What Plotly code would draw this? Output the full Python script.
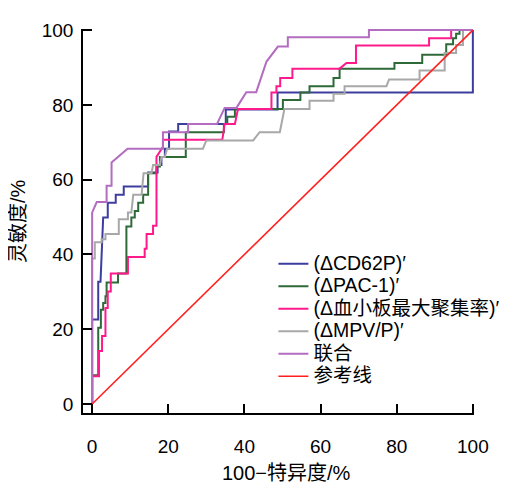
import plotly.graph_objects as go

# ROC curves: x = 100 - specificity (%), y = sensitivity (%)
cd62p_x = [0, 0, 1.6, 1.6, 2.2, 2.9, 4.1, 4.1, 6.2, 6.2, 8.3, 8.3, 14.7, 14.7, 17.2, 17.2, 18.2, 18.2, 19.1, 19.1, 20.2, 20.2, 22.6, 22.6, 35.1, 35.1, 48.7, 48.7, 100, 100]
cd62p_y = [0, 22.6, 22.6, 32.7, 32.7, 49.9, 49.9, 53.8, 53.8, 56.0, 56.0, 58.2, 58.2, 61.9, 61.9, 63.9, 63.9, 66.1, 66.1, 68.3, 68.3, 72.9, 72.9, 74.9, 74.9, 78.8, 78.8, 83.3, 83.3, 100]

pac1_x = [0, 0, 1.6, 1.6, 2.3, 2.3, 2.9, 2.9, 3.5, 3.5, 3.8, 3.8, 6.8, 6.8, 9.0, 9.0, 10.3, 10.3, 11.2, 11.2, 12.1, 12.1, 13.4, 13.4, 14.7, 14.7, 16.9, 16.9, 17.8, 17.8, 24.6, 24.6, 34.6, 34.6, 35.5, 35.5, 37.5, 37.5, 50.1, 50.1, 54.7, 54.7, 57.1, 57.1, 63.4, 63.4, 65.0, 65.0, 79.4, 79.4, 86.7, 86.7, 93.0, 93.0, 94.8, 94.8, 95.6, 95.6, 96.5, 96.5, 100]
pac1_y = [0, 7.7, 7.7, 20.4, 20.4, 25.2, 25.2, 27.0, 27.0, 28.8, 28.8, 32.5, 32.5, 34.9, 34.9, 47.5, 47.5, 49.9, 49.9, 51.6, 51.6, 53.8, 53.8, 56.0, 56.0, 61.7, 61.7, 63.5, 63.5, 66.1, 66.1, 72.7, 72.7, 74.9, 74.9, 76.8, 76.8, 78.9, 78.9, 81.3, 81.3, 83.3, 83.3, 85.0, 85.0, 87.2, 87.2, 89.7, 89.7, 91.2, 91.2, 93.4, 93.4, 96.2, 96.2, 97.8, 97.8, 99.0, 99.0, 100, 100]

plt_x = [0, 0, 1.8, 1.8, 2.6, 2.6, 3.5, 3.5, 4.1, 4.1, 4.9, 4.9, 9.4, 9.4, 13.8, 13.8, 14.3, 14.3, 16.0, 16.0, 16.9, 16.9, 18.6, 18.6, 34.2, 34.8, 37.5, 38.3, 47.1, 47.1, 48.4, 48.4, 49.4, 49.4, 52.6, 52.6, 65.0, 66.8, 69.3, 69.3, 88.5, 88.5, 94.3, 94.3, 100]
plt_y = [0, 7.4, 7.4, 14.2, 14.2, 18.2, 18.2, 25.7, 25.7, 30.1, 30.1, 34.9, 34.9, 39.3, 39.3, 41.5, 41.5, 45.5, 45.5, 47.7, 47.7, 66.1, 68.8, 70.7, 70.7, 74.9, 74.9, 78.9, 78.9, 83.3, 83.3, 85.0, 85.0, 87.2, 87.2, 89.7, 89.7, 91.2, 91.2, 95.9, 95.9, 97.8, 97.8, 100, 100]

mpv_x = [0, 0, 0.7, 0.7, 2.5, 2.5, 3.5, 3.5, 7.0, 7.0, 9.4, 9.4, 10.3, 10.8, 13.0, 13.5, 15.6, 16.0, 17.8, 18.2, 19.1, 19.7, 29.1, 30.0, 42.3, 44.0, 49.3, 50.5, 57.1, 57.1, 63.4, 63.4, 66.3, 66.3, 77.3, 78.0, 86.0, 86.0, 92.6, 92.6, 95.6, 95.6, 97.4, 97.4, 100]
mpv_y = [0, 38.9, 38.9, 43.3, 43.3, 44.1, 44.1, 45.5, 45.5, 49.4, 49.4, 51.2, 51.2, 56.0, 56.0, 61.7, 61.7, 63.9, 63.9, 66.1, 66.1, 68.3, 68.3, 70.5, 70.5, 72.7, 72.7, 78.9, 78.9, 81.1, 81.1, 83.0, 83.0, 85.0, 85.0, 86.8, 86.8, 89.2, 89.2, 93.9, 93.9, 96.0, 96.0, 100, 100]

comb_x = [0, 0, 1.2, 3.8, 3.8, 5.1, 5.1, 9.3, 18.6, 18.6, 25.2, 25.2, 32.8, 34.8, 37.9, 40.5, 43.1, 44.9, 45.8, 48.8, 51.4, 51.4, 72.7, 72.7, 100]
comb_y = [0, 51.2, 54.0, 54.0, 58.4, 58.4, 64.6, 68.3, 68.3, 72.7, 72.7, 74.9, 74.9, 79.2, 79.2, 83.4, 83.4, 88.6, 91.6, 95.6, 95.6, 98.1, 98.1, 100, 100]

ref_x = [0, 100]
ref_y = [0, 100]

names = ["(ΔCD62P)′", "(ΔPAC-1)′", "(Δ血小板最大聚集率)′", "(ΔMPV/P)′", "联合", "参考线"]
colors = ["#3d3d9e", "#2e6a38", "#ff1a8c", "#a8a8a8", "#b36cc0", "#ff2020"]
xs = [cd62p_x, pac1_x, plt_x, mpv_x, comb_x, ref_x]
ys = [cd62p_y, pac1_y, plt_y, mpv_y, comb_y, ref_y]
widths = [2, 2, 2, 2, 2, 1.6]

FONT = "Liberation Sans, Arial, Noto Sans CJK SC, sans-serif"

fig = go.Figure()
for x, y, n, c, w in zip(xs, ys, names, colors, widths):
    fig.add_trace(go.Scatter(
        x=x, y=y, mode="lines",
        name='<span style="font-size:19.5px">' + n + '</span>',
        line=dict(color=c, width=w),
    ))

tick_vals = [0, 20, 40, 60, 80, 100]
axis_common = dict(
    showline=True, linecolor="black", linewidth=1.6,
    ticks="inside", ticklen=9, tickwidth=1.6, tickcolor="black",
    tickvals=tick_vals, ticktext=[str(v) for v in tick_vals],
    showgrid=False, zeroline=False,
    tickfont=dict(size=19, color="black", family=FONT),
)

fig.update_layout(
    width=524, height=483,
    margin=dict(l=75, r=58, t=15, b=78),
    paper_bgcolor="white", plot_bgcolor="white",
    font=dict(family=FONT, color="black"),
    xaxis=dict(range=[-2.4, 100.3], ticklabelstandoff=15, **axis_common),
    yaxis=dict(range=[-2.4, 100.3], ticklabelstandoff=4, **axis_common),
    showlegend=True,
    legend=dict(
        x=0.487, y=0.431, xanchor="left", yanchor="top",
        bgcolor="rgba(0,0,0,0)", font=dict(size=15, color="black", family=FONT),
        itemwidth=30, tracegroupgap=0,
    ),
    annotations=[
        dict(text="100−特异度/%", x=51, y=0, xref="x", yref="paper",
             yshift=-60, showarrow=False, yanchor="middle",
             font=dict(size=20, color="black", family=FONT)),
        dict(text="灵敏度/%", x=0, y=0.5, xref="paper", yref="paper",
             xshift=-65, textangle=-90, showarrow=False, xanchor="center",
             font=dict(size=20, color="black", family=FONT)),
    ],
)

fig.write_html("out.html")
